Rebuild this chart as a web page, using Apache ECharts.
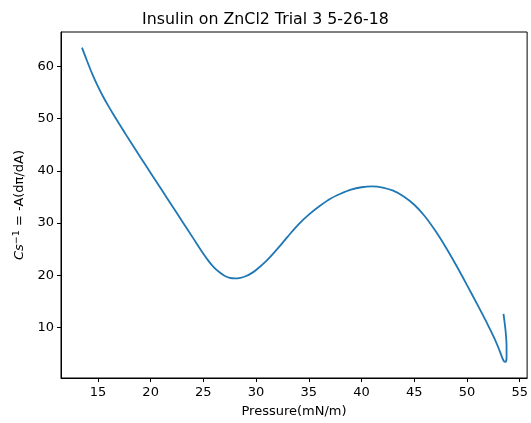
<!DOCTYPE html>
<html>
<head>
<meta charset="utf-8">
<script src="https://cdn.jsdelivr.net/npm/echarts@6/dist/echarts.min.js"></script>
<style>
  html, body { margin: 0; padding: 0; background: #fff; }
  #chart { width: 531px; height: 423px; }
</style>
</head>
<body>
<div id="chart"></div>
<script>
  // values
  let pressure = [13.49, 14.0, 14.5, 15.0, 15.5, 16.0, 16.5, 17.0, 17.5, 18.0, 19.0, 20.0, 21.0, 22.0,
    23.0, 24.0, 25.0, 25.5, 26.0, 26.5, 27.0, 27.5, 28.0, 28.5, 29.0, 29.5, 30.0, 31.0, 32.0, 33.0,
    34.0, 35.0, 36.0, 37.0, 38.0, 39.0, 40.0, 41.0, 42.0, 43.0, 44.0, 45.0, 46.0, 47.0, 48.0, 49.0,
    50.0, 51.0, 52.0, 52.6, 53.0, 53.3, 53.5, 53.65, 53.75, 53.75, 53.65, 53.55, 53.46];
  let modulus = [63.6, 60.9, 58.4, 56.2, 54.2, 52.4, 50.7, 49.05, 47.45, 45.85, 42.7, 39.6, 36.5, 33.4,
    30.3, 27.2, 24.1, 22.7, 21.5, 20.6, 19.9, 19.5, 19.4, 19.5, 19.8, 20.3, 21.0, 22.8, 25.0, 27.4,
    29.7, 31.6, 33.2, 34.6, 35.6, 36.4, 36.85, 37.0, 36.8, 36.2, 35.1, 33.5, 31.3, 28.5, 25.3, 21.8,
    18.1, 14.3, 10.4, 7.9, 6.0, 4.4, 3.5, 3.4, 4.2, 6.5, 9.5, 11.2, 12.6];
  let xTicks = [15, 20, 25, 30, 35, 40, 45, 50, 55];
  let yTicks = [10, 20, 30, 40, 50, 60];

  let points = pressure.map((p, i) => [p, modulus[i]]);
  let myChart = echarts.init(document.getElementById('chart'));
  let font = 'DejaVu Sans';
  let option = {
    animation: false,
    title: {
      text: 'Insulin on ZnCl2 Trial 3 5-26-18',
      left: 'center',
      top: 7,
      textStyle: {fontFamily: font, fontSize: 15.8, fontWeight: 'normal', color: '#000'}
    },
    grid: {
      left: 61,
      right: 1,
      top: 32,
      bottom: 42,
      show: true,
      borderColor: '#000',
      borderWidth: 1
    },
    xAxis: {
      type: 'value',
      min: 11.5,
      max: 55.7,
      name: 'Pressure(mN/m)',
      nameLocation: 'middle',
      nameGap: 27,
      nameTextStyle: {fontFamily: font, fontSize: 13, color: '#000'},
      axisLine: {lineStyle: {color: '#000'}},
      axisTick: {customValues: xTicks, length: 4, lineStyle: {color: '#000'}},
      axisLabel: {customValues: xTicks, margin: 8, fontFamily: font, fontSize: 13, color: '#000'},
      splitLine: {show: false}
    },
    yAxis: {
      type: 'value',
      min: 0.3,
      max: 66.6,
      name: '{i|Cs}{s|−1} = -A(dπ/dA)',
      nameLocation: 'middle',
      nameRotate: 90,
      nameGap: 33,
      nameTextStyle: {
        fontFamily: font, fontSize: 13, color: '#000',
        rich: {
          i: {fontFamily: font, fontSize: 13, fontStyle: 'italic', color: '#000'},
          s: {fontFamily: font, fontSize: 9.5, color: '#000', verticalAlign: 'top', padding: [0, 0, 6, 0]}
        }
      },
      axisLine: {show: true, lineStyle: {color: '#000'}},
      axisTick: {show: true, customValues: yTicks, length: 4, lineStyle: {color: '#000'}},
      axisLabel: {customValues: yTicks, margin: 7, fontFamily: font, fontSize: 13, color: '#000'},
      splitLine: {show: false}
    },
    series: [{
      type: 'line',
      data: points,
      showSymbol: false,
      smooth: 0.3,
      lineStyle: {color: '#1f77b4', width: 1.8},
      itemStyle: {color: '#1f77b4'}
    }]
  };
  myChart.setOption(option);
</script>
</body>
</html>
